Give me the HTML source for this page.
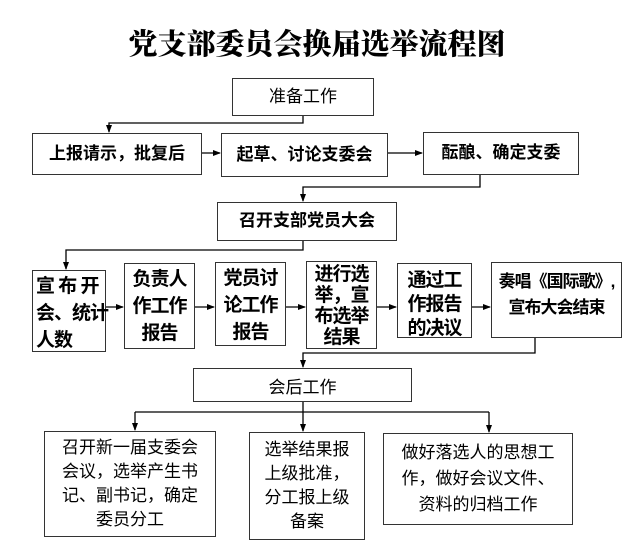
<!DOCTYPE html>
<html><head><meta charset="utf-8"><style>
body{margin:0;width:634px;height:547px;background:#fff;position:relative;overflow:hidden;font-family:"Liberation Sans","Noto Sans CJK SC",sans-serif;color:#000}
.b{position:absolute;border:1.5px solid #333;box-sizing:border-box;display:flex;align-items:center;justify-content:center;text-align:center;font-weight:bold;line-height:1.3;white-space:nowrap}
.t{position:absolute;left:0;width:634px;top:22px;text-align:center;font-family:"Noto Serif CJK SC",serif;font-weight:900;font-size:29px}
svg{position:absolute;left:0;top:0}
.s{font-size:17px}
.m{font-size:19px;line-height:27px;align-items:flex-start;padding-top:2px;letter-spacing:-1px;font-weight:bold}
</style></head><body>
<div class="t">党支部委员会换届选举流程图</div>
<svg width="634" height="547">
<defs><marker id="a" markerWidth="8" markerHeight="8" refX="7" refY="4" orient="auto" markerUnits="userSpaceOnUse"><path d="M0,1 L8,4 L0,7 z" fill="#000"/></marker></defs>
<g stroke="#000" stroke-width="1.3" fill="none">
<path d="M303 116 V123 H109 V132" marker-end="url(#a)"/>
<path d="M202 153 H220" marker-end="url(#a)"/>
<path d="M388 153 H422" marker-end="url(#a)"/>
<path d="M480 175 V187 H303 V201" marker-end="url(#a)"/>
<path d="M303 241 V250 H66 V269" marker-end="url(#a)"/>
<path d="M106 307 H123" marker-end="url(#a)"/>
<path d="M195 307 H214" marker-end="url(#a)"/>
<path d="M286 307 H305" marker-end="url(#a)"/>
<path d="M377 307 H396" marker-end="url(#a)"/>
<path d="M472 307 H490" marker-end="url(#a)"/>
<path d="M535 338 V353 H303 V367" marker-end="url(#a)"/>
<path d="M303 402 V412"/>
<path d="M135 412 H489"/>
<path d="M135 412 V430" marker-end="url(#a)"/>
<path d="M303 412 V431" marker-end="url(#a)"/>
<path d="M489 412 V432" marker-end="url(#a)"/>
</g></svg>
<div class="b s" style="left:232px;top:78px;width:142px;height:38px;font-weight:normal">准备工作</div>
<div class="b s" style="left:32px;top:133px;width:170px;height:42px">上报请示，批复后</div>
<div class="b s" style="left:221px;top:133px;width:167px;height:44px">起草、讨论支委会</div>
<div class="b s" style="left:423px;top:132px;width:156px;height:43px">酝酿、确定支委</div>
<div class="b s" style="left:217px;top:202px;width:180px;height:39px">召开支部党员大会</div>
<div class="b m" style="left:32px;top:270px;width:74px;height:82px;text-align:left;justify-content:flex-start;padding-left:3px">宣 布 开<br>会、统计<br>人数</div>
<div class="b m" style="left:124px;top:263px;width:71px;height:86px">负责人<br>作工作<br>报告</div>
<div class="b m" style="left:215px;top:262px;width:71px;height:84px">党员讨<br>论工作<br>报告</div>
<div class="b m" style="left:306px;top:261px;width:71px;height:88px;line-height:21px">进行选<br>举，宣<br>布选举<br>结果</div>
<div class="b m" style="left:397px;top:263px;width:75px;height:75px;line-height:24px;padding-top:5px">通过工<br>作报告<br>的决议</div>
<div class="b m" style="left:491px;top:262px;width:131px;height:76px;line-height:26px;padding-top:6px;font-size:17px">奏唱《国际歌》,<br>宣布大会结束</div>
<div class="b s" style="left:193px;top:368px;width:219px;height:34px;font-weight:normal;align-items:flex-end;padding-bottom:2px">会后工作</div>
<div class="b s" style="left:44px;top:431px;width:172px;height:106px;line-height:24px;font-weight:normal">召开新一届支委会<br>会议，选举产生书<br>记、副书记，确定<br>委员分工</div>
<div class="b s" style="left:249px;top:432px;width:116px;height:108px;line-height:24px;font-weight:normal">选举结果报<br>上级批准，<br>分工报上级<br>备案</div>
<div class="b s" style="left:383px;top:433px;width:190px;height:92px;line-height:26px;font-weight:normal">做好落选人的思想工<br>作，做好会议文件、<br>资料的归档工作</div>
</body></html>
